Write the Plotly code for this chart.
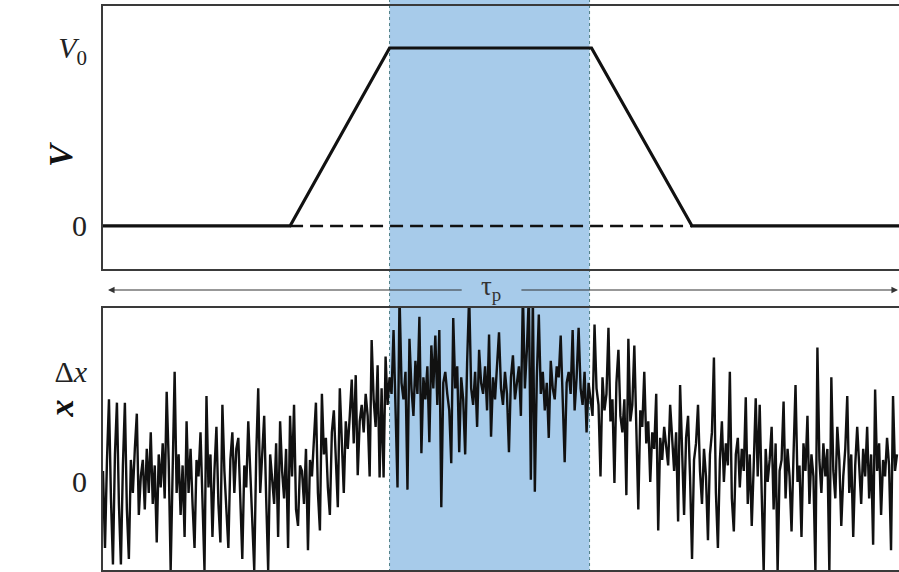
import numpy as np
import plotly.graph_objects as go
from plotly.subplots import make_subplots

# ---- time grid (arbitrary units) ----
t_start, t_end = 0.0, 8.0

# gate voltage: trapezoidal pulse
v_time = [0.0, 1.88, 2.88, 4.91, 5.92, 8.0]
v_level = [0.0, 0.0, 1.0, 1.0, 0.0, 0.0]
baseline_time = [1.88, 5.92]
baseline_level = [0.0, 0.0]

# shaded window of the pulse plateau
window_start, window_end = 2.88, 4.89

# measured displacement (units of Δx), sampled every 0.02
x_step = 0.02
x_signal = [
    0.10, -0.60, 0.20, 0.75, -0.15, -0.75, 0.25, 0.72, -0.20, -0.75, 0.15, 0.72, -0.25, -0.70, 0.20, -0.10, 0.30, 0.62, -0.30, 0.05,
    0.20, -0.25, 0.30, -0.10, 0.45, -0.20, 0.15, -0.55, 0.25, -0.05, 0.35, -0.15, 0.82, 0.20, -0.80, 0.10, 1.00, -0.10, 0.25, -0.30,
    0.15, -0.50, 0.55, -0.10, 0.30, -0.20, -0.60, 0.20, 0.05, 0.45, -0.15, -0.80, 0.78, -0.05, 0.25, -0.50, 0.10, 0.50, -0.20, -0.55,
    0.70, 0.10, -0.25, -0.60, 0.20, 0.45, -0.10, 0.30, 0.40, -0.20, -0.70, 0.15, -0.05, 0.55, 0.10, -0.30, -0.80, 0.25, 0.85, -0.10,
    0.20, 0.60, -0.15, -0.80, 0.25, 0.05, -0.20, 0.35, -0.50, 0.55, 0.10, -0.15, 0.30, -0.60, 0.60, 0.05, 0.70, -0.25, -0.40, 0.15,
    0.10, -0.20, 0.30, -0.62, 0.20, 0.05, 0.35, 0.72, -0.10, -0.44, 0.80, 0.25, 0.40, -0.05, -0.30, 0.45, 0.65, 0.20, -0.23, 0.85,
    0.40, -0.10, 0.55, 0.30, 0.60, 0.93, 0.35, 0.97, 0.06, 0.55, 0.70, 0.45, 0.80, 0.60, 0.05, 1.29, 0.75, 0.50, 1.06, 0.04,
    0.85, 0.04, 1.14, 0.70, 0.95, 0.80, 1.38, 0.65, -0.05, 1.70, 0.90, 0.75, 1.00, -0.07, 1.30, 0.85, 0.60, 1.10, 0.80, 1.50,
    0.26, 0.95, 0.75, 1.05, 0.36, 1.24, 0.85, 1.33, 0.70, 1.38, -0.23, 0.90, 1.00, 0.80, 0.65, 0.17, 1.49, 0.85, 1.05, 0.27,
    0.95, 0.75, 0.25, 1.10, 1.70, 0.85, 0.70, 1.00, 0.50, 1.20, 0.90, 0.80, 1.05, 0.65, 1.34, 0.41, 0.95, 0.75, 1.10, 1.36,
    0.85, 0.70, 1.00, 0.80, 0.27, 0.95, 1.15, 0.75, 0.90, 1.05, 0.60, 1.72, 0.85, 1.20, 1.70, 0.02, 1.68, -0.09, 0.95, 1.52,
    0.80, 1.00, 0.65, 0.90, 0.40, 1.10, 0.85, 0.75, 1.05, 0.95, 1.33, 0.70, 0.18, 0.90, 1.00, 0.80, 1.38, 0.65, 0.95, 1.40,
    0.85, 0.70, 1.00, 0.45, 0.90, 0.75, 0.60, 1.43, 0.85, 0.70, 0.05, 0.95, 0.65, 0.80, 1.40, 0.55, 0.75, -0.01, 0.90, 1.20,
    0.60, 0.45, 0.75, -0.12, 1.30, 0.55, 0.70, 1.24, 0.40, -0.25, 0.65, 0.50, 1.00, 0.35, 0.55, 0.00, 0.45, 0.30, 0.80, -0.44,
    0.40, 0.20, 0.50, 0.30, 0.15, 0.70, 0.35, 0.10, 0.45, -0.36, 0.88, 0.25, -0.30, 0.40, 0.60, 0.05, -0.70, 0.20, 0.35, 0.70,
    0.10, -0.20, 0.30, 0.05, -0.53, 0.25, 0.45, 1.13, -0.10, -0.60, 0.20, 0.55, 0.00, 0.35, 0.15, 1.00, -0.15, -0.45, 0.25, 0.40,
    -0.05, 0.30, 0.10, 0.77, -0.20, 0.25, -0.40, 0.15, 0.76, 0.05, 0.70, -0.10, -0.82, 0.30, 0.00, 0.20, 0.50, -0.25, 0.35, -0.82,
    0.10, 0.20, 0.73, -0.15, 0.30, 0.05, -0.45, 0.25, 0.88, 0.00, 0.15, -0.50, 0.35, 0.10, 0.60, -0.20, 0.25, 0.05, -0.82, 1.22,
    0.20, -0.10, 0.35, 0.05, 0.30, -0.82, 0.95, 0.10, -0.15, 0.50, 0.20, -0.40, 0.05, 0.30, 0.78, -0.10, 0.25, -0.50, 0.15, 0.50,
    0.10, -0.20, 0.30, 0.05, 0.50, -0.15, 0.25, -0.57, 0.84, 0.10, 0.35, -0.30, 0.20, 0.05, 0.40, 0.15, -0.62, 0.78, 0.10, 0.25,
]
x_time = np.arange(len(x_signal)) * x_step

# tick labels
v_tickvals = [0, 1]
v_ticktext = ["0", "<i>V</i><sub>0</sub>"]
x_tickvals = [0, 1]
x_ticktext = ["0", "Δ<i>x</i>"]

# pulse-duration arrow
arrow_left, arrow_right = 0.05, 7.99
gap_left, gap_right = 3.62, 4.19
tau_pos = 3.90

W, H = 899, 572
ML = 103
SERIF = "Liberation Serif"
INK = "#111111"
FRAME = "#3a3a3a"
BAND = "#a7cbea"

def py(px_from_top):
    return 1 - px_from_top / H

fig = make_subplots(rows=2, cols=1, shared_xaxes=False)

fig.add_trace(go.Scatter(x=baseline_time, y=baseline_level, mode="lines",
                         line=dict(color=INK, width=2.6, dash="13px,7px")), row=1, col=1)
fig.add_trace(go.Scatter(x=v_time, y=v_level, mode="lines",
                         line=dict(color=INK, width=3.2)), row=1, col=1)
fig.add_trace(go.Scatter(x=x_time, y=x_signal, mode="lines",
                         line=dict(color=INK, width=2.4)), row=2, col=1)

axis_common = dict(showgrid=False, zeroline=False, showline=True,
                   linecolor=FRAME, linewidth=2)
fig.update_xaxes(**axis_common, range=[t_start, t_end], mirror=True,
                 showticklabels=False, ticks="")
fig.update_yaxes(**axis_common, ticks="", ticklabelstandoff=8,
                 tickfont=dict(family=SERIF, size=30, color="#222222"))

fig.update_layout(
    xaxis=dict(domain=[0, 1]),
    xaxis2=dict(domain=[0, 1]),
    yaxis=dict(domain=[py(269), py(6)], range=[-0.242, 1.236],
               tickvals=v_tickvals, ticktext=v_ticktext),
    yaxis2=dict(domain=[py(570), py(308)], range=[-0.80, 1.58],
                tickvals=x_tickvals, ticktext=x_ticktext),
)

# shaded plateau window across the whole figure
fig.add_shape(type="rect", xref="x", yref="paper", x0=window_start, x1=window_end,
              y0=0, y1=1, fillcolor=BAND, line=dict(width=0), layer="below")
for xv in (window_start, window_end):
    fig.add_shape(type="line", xref="x", yref="paper", x0=xv, x1=xv, y0=0, y1=1,
                  line=dict(color="#4f7f86", width=1, dash="dot"), layer="below")

# τp arrow between panels
arrow_y = py(290)
for tip, tail in ((arrow_left, gap_left), (arrow_right, gap_right)):
    fig.add_annotation(x=tip, y=arrow_y, xref="x", yref="paper",
                       ax=tail, ay=0, axref="x", ayref="pixel",
                       text="", showarrow=True, arrowhead=2, arrowsize=1.2,
                       arrowwidth=1.1, arrowcolor="#333333")
fig.add_annotation(x=tau_pos, y=py(288), xref="x", yref="paper", text="τ<sub>p</sub>",
                   showarrow=False, font=dict(family=SERIF, size=27, color="#333333"))

# axis titles
for label, ycen in (("<b><i>V</i></b>", py(140)), ("<b><i>x</i></b>", py(420))):
    fig.add_annotation(x=-63 / (W - ML), y=ycen, xref="paper", yref="paper",
                       text=label, textangle=-90, showarrow=False,
                       font=dict(family=SERIF, size=34, color=INK))

fig.update_layout(
    width=W, height=H,
    margin=dict(l=ML, r=0, t=0, b=0),
    paper_bgcolor="white", plot_bgcolor="rgba(0,0,0,0)",
    showlegend=False,
)

fig.write_html("out.html")
